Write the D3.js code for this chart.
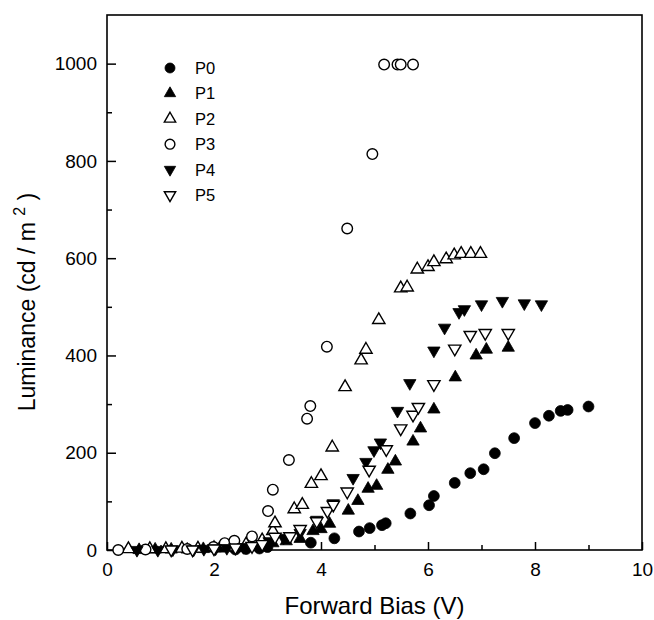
<!DOCTYPE html>
<html>
<head>
<meta charset="utf-8">
<script src="https://cdn.jsdelivr.net/npm/d3@7"></script>
<style>
  body { margin: 0; background: #fff; }
  text { font-family: "Liberation Sans", Arial, Helvetica, sans-serif; fill: #000; }
</style>
</head>
<body>
<div id="chart"></div>
<script>
// series: [forward bias (V), luminance (cd/m2)]
const p0 = [[2.4,1],[2.6,2],[2.85,3],[3.0,6],[3.81,15],[4.25,24],[4.71,38],[4.91,45],[5.14,51],[5.21,55],
            [5.67,75],[6.02,92],[6.11,111],[6.5,138],[6.79,158],[7.04,166],[7.25,199],[7.61,230],
            [8.0,261],[8.26,276],[8.48,286],[8.61,288],[9.0,295]];
const p1 = [[0.6,0],[0.9,1],[1.2,1],[1.5,1],[1.8,2],[2.1,3],[2.4,4],[2.7,6],[2.95,10],[3.1,14],[3.35,18],
            [3.61,23],[3.85,39],[4.0,43],[4.16,54],[4.51,81],[4.69,101],[4.88,126],[5.04,132],[5.25,165],
            [5.39,182],[5.72,223],[5.86,250],[6.11,289],[6.51,355],[6.9,400],[7.09,412],[7.5,416]];
const p2 = [[0.4,2],[0.8,2],[1.1,2],[1.4,3],[1.7,3],[2.0,4],[2.3,7],[2.6,12],[2.9,20],[3.1,39],[3.14,55],
            [3.5,84],[3.65,93],[3.82,136],[4.0,152],[4.21,211],[4.45,335],[4.75,390],[4.84,412],[5.08,473],
            [5.49,538],[5.61,540],[5.8,577],[6.0,582],[6.11,592],[6.34,598],[6.49,606],[6.62,609],
            [6.8,609],[6.98,609]];
const p3 = [[0.21,0],[0.72,1],[1.5,2],[1.99,6],[2.2,14],[2.38,19],[2.71,28],[3.01,80],[3.1,124],[3.4,185],
            [3.74,270],[3.8,296],[4.11,418],[4.49,661],[4.96,814],[5.18,998],[5.43,998],[5.49,998],[5.72,998]];
const p4 = [[0.56,0],[0.95,0],[1.23,1],[1.62,1],[1.81,2],[2.03,3],[2.24,4],[2.55,6],[2.8,9],[3.03,18],
            [3.3,25],[3.61,35],[3.92,62],[4.23,96],[4.6,148],[4.84,181],[4.99,205],[5.11,221],[5.43,286],
            [5.66,343],[6.11,410],[6.31,457],[6.58,489],[6.68,495],[7.0,505],[7.39,512],[7.8,507],[8.12,505]];
const p5 = [[1.2,1],[1.6,1],[2.0,3],[2.4,5],[2.71,8],[2.9,12],[3.14,27],[3.42,28],[3.61,43],[3.92,59],
            [4.12,80],[4.23,93],[4.49,120],[4.9,165],[5.22,207],[5.49,250],[5.72,278],[5.82,294],
            [6.11,341],[6.5,414],[6.79,442],[7.07,446],[7.5,446]];

const seriesNames = ["P0", "P1", "P2", "P3", "P4", "P5"];
const seriesData = [p0, p1, p2, p3, p4, p5];
const xTicks = [0, 2, 4, 6, 8, 10];
const xMinor = [1, 3, 5, 7, 9];
const yTicks = [0, 200, 400, 600, 800, 1000];
const yMinor = [100, 300, 500, 700, 900];

const width = 654, height = 620;
const margin = { top: 15, right: 12, bottom: 70, left: 107 };

const svg = d3.select("#chart").append("svg")
    .attr("width", width)
    .attr("height", height);

const x = d3.scaleLinear().domain([0, 10]).range([margin.left, width - margin.right]);
const y = d3.scaleLinear().domain([0, 1100]).range([height - margin.bottom, margin.top]);

// marker styles per series
const markers = [
    { type: d3.symbolCircle, size: 92, rot: 0, fill: "#000" },
    { type: d3.symbolTriangle, size: 66, rot: 0, fill: "#000" },
    { type: d3.symbolTriangle, size: 66, rot: 0, fill: "#fff" },
    { type: d3.symbolCircle, size: 88, rot: 0, fill: "#fff" },
    { type: d3.symbolTriangle, size: 66, rot: 180, fill: "#000" },
    { type: d3.symbolTriangle, size: 66, rot: 180, fill: "#fff" }
];

// frame
svg.append("rect")
    .attr("x", x(0)).attr("y", y(1100))
    .attr("width", x(10) - x(0)).attr("height", y(0) - y(1100))
    .attr("fill", "none").attr("stroke", "#000").attr("stroke-width", 1.6);

// axes, ticks point inward
svg.append("g").attr("transform", `translate(0,${y(0)})`)
    .call(d3.axisBottom(x).tickValues(xTicks).tickSize(-8).tickPadding(13).tickFormat(d3.format("d")));
svg.append("g").attr("transform", `translate(0,${y(0)})`)
    .call(d3.axisBottom(x).tickValues(xMinor).tickSize(-5).tickFormat(""));
svg.append("g").attr("transform", `translate(${x(0)},0)`)
    .call(d3.axisLeft(y).tickValues(yTicks).tickSize(-9).tickPadding(10).tickFormat(d3.format("d")));
svg.append("g").attr("transform", `translate(${x(0)},0)`)
    .call(d3.axisLeft(y).tickValues(yMinor).tickSize(-5).tickFormat(""));

svg.selectAll(".domain").remove();
svg.selectAll(".tick line").attr("stroke", "#000").attr("stroke-width", 1.5);
svg.selectAll(".tick text").attr("font-size", 19).attr("fill", "#000");

// axis titles
svg.append("text")
    .attr("x", (x(0) + x(10)) / 2).attr("y", 614)
    .attr("text-anchor", "middle").attr("font-size", 24)
    .text("Forward Bias (V)");

const yTitle = svg.append("text")
    .attr("transform", "translate(35,302) rotate(-90)")
    .attr("text-anchor", "middle").attr("font-size", 23);
yTitle.append("tspan").text("Luminance (cd / m ");
yTitle.append("tspan").attr("dy", -10).attr("font-size", 16).text("2");
yTitle.append("tspan").attr("dy", 10).text(" )");

// points
seriesData.forEach((data, i) => {
    const m = markers[i];
    svg.append("g").selectAll("path")
        .data(data)
        .enter().append("path")
        .attr("d", d3.symbol().type(m.type).size(m.size))
        .attr("transform", d => `translate(${x(d[0])},${y(d[1])}) rotate(${m.rot})`)
        .attr("fill", m.fill)
        .attr("stroke", "#000")
        .attr("stroke-width", m.fill === "#fff" ? 1.4 : 0.8);
});

// legend
const legend = svg.append("g");
seriesNames.forEach((name, i) => {
    const m = markers[i];
    const ly = 68 + i * 25.4;
    legend.append("path")
        .attr("d", d3.symbol().type(m.type).size(m.size * 0.85))
        .attr("transform", `translate(170,${ly}) rotate(${m.rot})`)
        .attr("fill", m.fill)
        .attr("stroke", "#000")
        .attr("stroke-width", m.fill === "#fff" ? 1.4 : 0.8);
    legend.append("text")
        .attr("x", 195).attr("y", ly + 6)
        .attr("font-size", 16.5)
        .text(name);
});
</script>
</body>
</html>
